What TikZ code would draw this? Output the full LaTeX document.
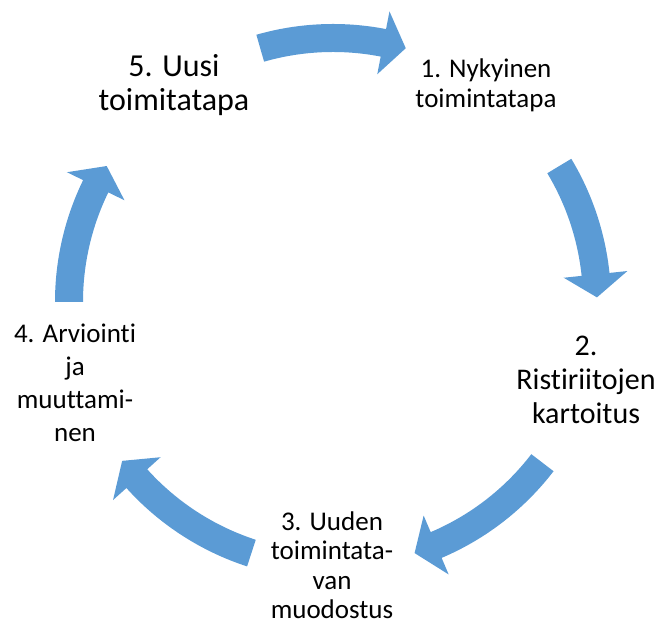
\documentclass[tikz,border=0pt]{standalone}
\usepackage{fontspec}
\setmainfont[Ligatures={NoCommon}]{Carlito}
\definecolor{arrowblue}{RGB}{91,155,213}
\tikzset{
  lbl/.style={align=center, inner sep=0pt, text=black},
  arrowfill/.style={fill=arrowblue, draw=none}
}
\newcommand{\cycarrow}[2]{% tail angle, tip angle
  \fill[arrowfill] (#1:278) arc[start angle=#1, end angle={#2+5}, radius=278pt]
    -- ({#2+5}:296) -- (#2:264) -- ({#2+5}:232) -- ({#2+5}:250)
    arc[start angle={#2+5}, end angle=#1, radius=250pt] -- cycle;
}
\begin{document}
\begin{tikzpicture}[x=1pt,y=1pt]
\useasboundingbox (0,0) rectangle (662,620);
\begin{scope}[shift={(333,318)}]
  \coordinate (C) at (0,0);
  \cycarrow{106}{74}
  \cycarrow{31}{1}
  \cycarrow{-37.5}{-72}
  \cycarrow{-108}{-143}
  \cycarrow{180}{149}
\end{scope}
\node[lbl, font=\fontsize{27}{30}\selectfont] (n1) at (486,535) {1. Nykyinen\\toimintatapa};
\node[lbl, font=\fontsize{30}{34}\selectfont] (n2) at (586,240) {2.\\Ristiriitojen\\kartoitus};
\node[lbl, font=\fontsize{27}{29.5}\selectfont] (n3) at (332,55) {3. Uuden\\toimintata-\\van\\muodostus};
\node[lbl, font=\fontsize{27}{33}\selectfont] (n4) at (75,237) {4. Arviointi\\ja\\muuttami-\\nen};
\node[lbl, font=\fontsize{32}{34}\selectfont] (n5) at (174,535) {5. Uusi\\toimitatapa};
\end{tikzpicture}
\end{document}
